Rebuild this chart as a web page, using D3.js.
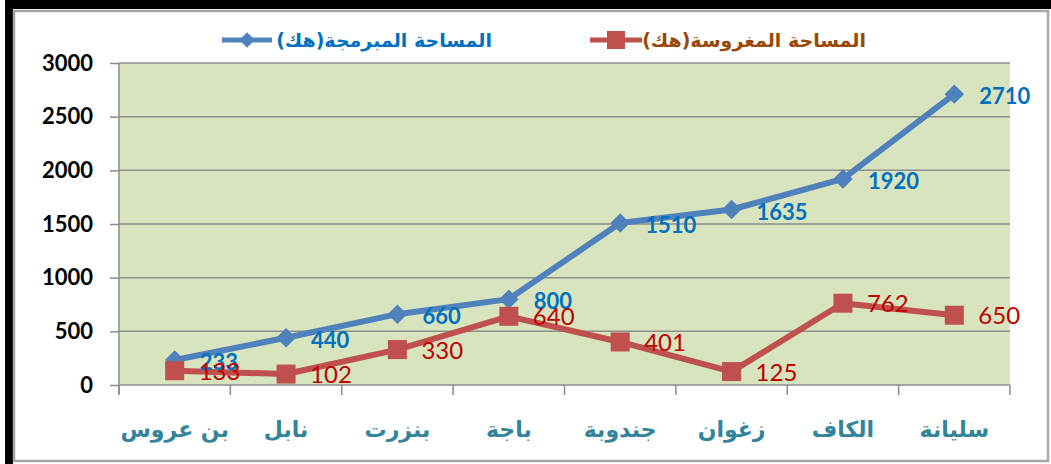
<!DOCTYPE html>
<html>
<head>
<meta charset="utf-8">
<script src="https://cdn.jsdelivr.net/npm/d3@7"></script>
<style>
  body { margin: 0; background: #fff; }
  svg { display: block; }
</style>
</head>
<body>
<script>
// chart data
var regions = ["بن عروس", "نابل", "بنزرت", "باجة", "جندوبة", "زغوان", "الكاف", "سليانة"];
var planned = [233, 440, 660, 800, 1510, 1635, 1920, 2710];
var planted = [133, 102, 330, 640, 401, 125, 762, 650];
var yTicks = [0, 500, 1000, 1500, 2000, 2500, 3000];
var plannedName = "المساحة المبرمجة(هك)";
var plantedName = "المساحة المغروسة(هك)";

var width = 1051, height = 464;
var plot = {left: 119, right: 1010, top: 63, bottom: 385};

var svg = d3.select("body").append("svg")
    .attr("width", width)
    .attr("height", height);

// frame: black band top/left and grey border
svg.append("rect").attr("x", 5).attr("y", 0).attr("width", width - 5).attr("height", 9).attr("fill", "#000");
svg.append("rect").attr("x", 5).attr("y", 0).attr("width", 8).attr("height", height).attr("fill", "#000");
svg.append("rect")
    .attr("x", 14).attr("y", 11)
    .attr("width", 1034).attr("height", 450)
    .attr("fill", "#fff")
    .attr("stroke", "#a6a6a6")
    .attr("stroke-width", 2.5);

var x = d3.scaleBand()
    .domain(regions)
    .range([plot.left, plot.right]);

var y = d3.scaleLinear()
    .domain([0, 3000])
    .range([plot.bottom, plot.top]);

function cx(d, i) { return x(regions[i]) + x.bandwidth() / 2; }

svg.append("rect")
    .attr("x", plot.left).attr("y", plot.top)
    .attr("width", plot.right - plot.left).attr("height", plot.bottom - plot.top)
    .attr("fill", "#d7e4bd");

// gridlines
svg.append("g").selectAll("line")
    .data(yTicks.slice(1))
    .enter().append("line")
    .attr("x1", plot.left).attr("x2", plot.right)
    .attr("y1", function(d) { return y(d); })
    .attr("y2", function(d) { return y(d); })
    .attr("stroke", "#8c8c8c")
    .attr("stroke-width", 1.5);

// y axis
var yAxis = d3.axisLeft(y)
    .tickValues(yTicks)
    .tickFormat(d3.format("d"))
    .tickSize(9)
    .tickPadding(17);

var gy = svg.append("g")
    .attr("transform", "translate(" + plot.left + ",0)")
    .call(yAxis);
gy.select(".domain").attr("stroke", "#8c8c8c").attr("stroke-width", 1.5)
    .attr("d", "M0," + plot.top + "V" + (plot.bottom + 9));
gy.selectAll(".tick line").attr("stroke", "#8c8c8c").attr("stroke-width", 1.5);
gy.selectAll(".tick text")
    .attr("fill", "#000")
    .style("font-family", "Lato, 'Liberation Sans', sans-serif")
    .style("font-weight", "bold")
    .style("font-size", "22px");

// x axis
var xAxis = d3.axisBottom(x).tickSize(0).tickPadding(36);
var gx = svg.append("g")
    .attr("transform", "translate(0," + plot.bottom + ")")
    .call(xAxis);
gx.select(".domain").attr("stroke", "#8c8c8c").attr("stroke-width", 1.5)
    .attr("d", "M" + plot.left + ",0H" + plot.right);
gx.selectAll(".tick text")
    .attr("fill", "#31849b")
    .style("font-family", "'DejaVu Sans', sans-serif")
    .style("font-weight", "bold")
    .style("font-size", "22px");

var bounds = regions.map(function(d) { return x(d); }).concat([x.range()[1]]);
gx.append("g").selectAll("line")
    .data(bounds)
    .enter().append("line")
    .attr("x1", function(d) { return d; }).attr("x2", function(d) { return d; })
    .attr("y1", 0).attr("y2", 10)
    .attr("stroke", "#8c8c8c")
    .attr("stroke-width", 1.5);

var line = d3.line()
    .x(cx)
    .y(function(d) { return y(d); });

var blue = "#4f81bd", red = "#c0504d";

svg.append("path").datum(planned)
    .attr("d", line)
    .attr("fill", "none").attr("stroke", blue).attr("stroke-width", 6)
    .attr("stroke-linejoin", "round");
svg.append("g").selectAll("path")
    .data(planned)
    .enter().append("path")
    .attr("d", d3.symbol().type(d3.symbolSquare).size(190))
    .attr("transform", function(d, i) { return "translate(" + cx(d, i) + "," + y(d) + ") rotate(45)"; })
    .attr("fill", blue);

svg.append("path").datum(planted)
    .attr("d", line)
    .attr("fill", "none").attr("stroke", red).attr("stroke-width", 6)
    .attr("stroke-linejoin", "round");
svg.append("g").selectAll("rect")
    .data(planted)
    .enter().append("rect")
    .attr("x", function(d, i) { return cx(d, i) - 9.5; })
    .attr("y", function(d) { return y(d) - 9.5; })
    .attr("width", 19).attr("height", 19)
    .attr("fill", red);

// value labels
svg.append("g").selectAll("text")
    .data(planned)
    .enter().append("text")
    .attr("x", function(d, i) { return cx(d, i) + 25; })
    .attr("y", function(d) { return y(d) + 10; })
    .attr("fill", "#0070c0")
    .style("font-family", "Lato, sans-serif")
    .style("font-weight", "bold")
    .style("font-size", "22px")
    .text(function(d) { return d; });

svg.append("g").selectAll("text")
    .data(planted)
    .enter().append("text")
    .attr("x", function(d, i) { return cx(d, i) + 24; })
    .attr("y", function(d) { return y(d) + 9; })
    .attr("fill", "#c00000")
    .style("font-family", "Lato, sans-serif")
    .style("font-size", "24px")
    .text(function(d) { return d; });

// legend
var legend = svg.append("g");
legend.append("line")
    .attr("x1", 222).attr("x2", 272).attr("y1", 40).attr("y2", 40)
    .attr("stroke", blue).attr("stroke-width", 5);
legend.append("path")
    .attr("d", d3.symbol().type(d3.symbolSquare).size(120))
    .attr("transform", "translate(247,40) rotate(45)")
    .attr("fill", blue);
legend.append("text")
    .attr("x", 492).attr("y", 47)
    .attr("text-anchor", "end")
    .attr("fill", "#0070c0")
    .style("font-family", "'DejaVu Sans', sans-serif")
    .style("font-weight", "bold")
    .style("font-size", "19px")
    .text(plannedName);

legend.append("line")
    .attr("x1", 590).attr("x2", 642).attr("y1", 40).attr("y2", 40)
    .attr("stroke", red).attr("stroke-width", 5);
legend.append("rect")
    .attr("x", 607).attr("y", 31).attr("width", 18).attr("height", 18)
    .attr("fill", red);
legend.append("text")
    .attr("x", 866).attr("y", 47)
    .attr("text-anchor", "end")
    .attr("fill", "#984807")
    .style("font-family", "'DejaVu Sans', sans-serif")
    .style("font-weight", "bold")
    .style("font-size", "19px")
    .text(plantedName);
</script>
</body>
</html>
